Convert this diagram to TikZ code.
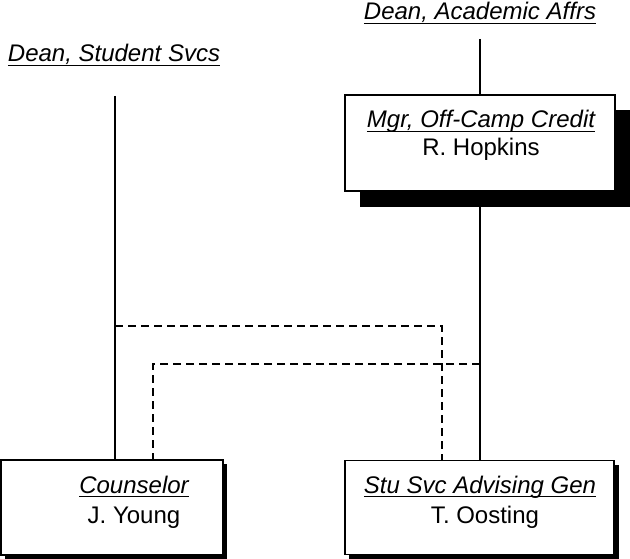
\documentclass[tikz,border=0pt]{standalone}
\usepackage{fontspec}
\setmainfont{Liberation Sans}
\begin{document}
\begin{tikzpicture}[x=1pt,y=-1pt,
  every node/.style={inner sep=0pt,outer sep=0pt},
  txt/.style={anchor=base,font=\fontsize{24}{28}\selectfont},
  ttl/.style={anchor=base,font=\fontsize{24}{28}\selectfont\itshape},
  box/.style={draw,line width=1.6pt,fill=white,rectangle},
  shadow/.style={fill=black},
  uline/.style={line width=1.3pt},
  conn/.style={line width=1.6pt},
  dconn/.style={line width=1.6pt,dash pattern=on 8pt off 5pt}]
\useasboundingbox (0,0) rectangle (630,559);
% shadows
\fill[shadow] (360,110) rectangle (630,207);
\fill[shadow] (5,464) rectangle (227,558.5);
\fill[shadow] (349,465) rectangle (619,558.5);
% top labels
\node[ttl] (daa) at (480,20) {Dean, Academic Affrs};
\node[ttl] (dss) at (114,62) {Dean, Student Svcs};
\draw[uline] ([yshift=-3.5pt]daa.base west) -- ([yshift=-3.5pt]daa.base east);
\draw[uline] ([yshift=-3.5pt]dss.base west) -- ([yshift=-3.5pt]dss.base east);
\coordinate (ra) at (480,39);
\coordinate (ls) at (115,96);
% box centres
\coordinate (mgrc) at (480,143);
\coordinate (couc) at (112,507.5);
\coordinate (stuc) at (479.5,507.5);
% connectors
\draw[conn] (ra) -- (480,95);
\draw[conn] (480,191) -- (480,461);
\draw[conn] (ls) -- (115,460);
\coordinate (d1a) at (115,326);
\coordinate (d1b) at (442,326);
\coordinate (d2a) at (480,364);
\coordinate (d2b) at (153,364);
\draw[dconn] (d1a) -- (d1b) -- (442,461);
\draw[dconn] (d2a) -- (d2b) -- (153,460);
% boxes
\node[box,minimum width=270pt,minimum height=96pt] (mgr) at (mgrc) {};
\node[box,minimum width=222pt,minimum height=95pt] (cou) at (couc) {};
\node[box,minimum width=269pt,minimum height=94pt] (stu) at (stuc) {};
% box texts
\node[ttl] (mgrt) at (481,128) {Mgr, Off-Camp Credit};
\node[txt] (mgrn) at (481,156) {R. Hopkins};
\node[ttl] (cout) at (134,493) {Counselor};
\node[txt] (coun) at (134,523) {J. Young};
\node[ttl] (stut) at (480,493) {Stu Svc Advising Gen};
\node[txt] (stun) at (485,523) {T. Oosting};
\foreach \n in {mgrt,cout,stut}
  \draw[uline] ([yshift=-3.5pt]\n.base west) -- ([yshift=-3.5pt]\n.base east);
\end{tikzpicture}
\end{document}
